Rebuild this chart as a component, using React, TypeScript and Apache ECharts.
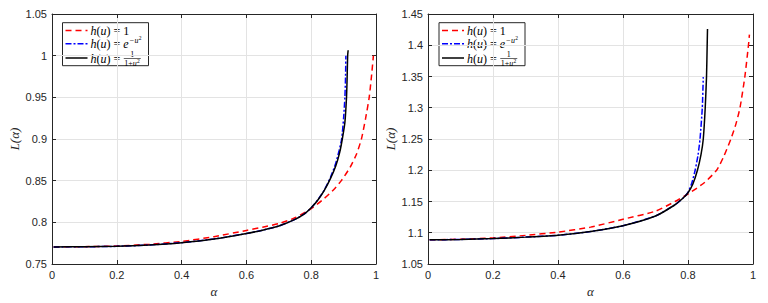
import React, { useEffect, useRef } from "react";
import * as echarts from "echarts";

// ---------- data ----------
const xTicksInterval = 0.2;
const leftYRange = [0.75, 1.05];
const rightYRange = [1.05, 1.45];
const yInterval = 0.05;

const seriesNames = ["h(u) = 1", "h(u) = e^{-u^2}", "h(u) = 1/(1+u^2)"];

// Left panel
const leftConst: [number, number][] = [
  [0.005, 0.7705], [0.1, 0.7708], [0.2, 0.7716], [0.3, 0.7737], [0.4, 0.7771],
  [0.5, 0.7828], [0.6, 0.7903], [0.65, 0.7942], [0.7, 0.7985], [0.75, 0.8055],
  [0.8, 0.8165], [0.84, 0.8285], [0.87, 0.8395], [0.893, 0.85], [0.92, 0.866],
  [0.94, 0.882], [0.955, 0.9], [0.968, 0.925], [0.979, 0.95], [0.986, 0.975],
  [0.992, 1.0],
];
const leftExp: [number, number][] = [
  [0.005, 0.7705], [0.1, 0.7707], [0.2, 0.7712], [0.3, 0.7728], [0.4, 0.7756],
  [0.5, 0.78], [0.6, 0.7866], [0.65, 0.7906], [0.7, 0.7956], [0.75, 0.8035],
  [0.78, 0.8105], [0.8, 0.8175], [0.82, 0.8268], [0.84, 0.8385], [0.86, 0.8545],
  [0.875, 0.87], [0.886, 0.886], [0.894, 0.9], [0.9, 0.925], [0.904, 0.95],
  [0.906, 0.975], [0.907, 1.0],
];
const leftRat: [number, number][] = [
  [0.005, 0.7705], [0.1, 0.7707], [0.2, 0.7712], [0.3, 0.7728], [0.4, 0.7756],
  [0.5, 0.78], [0.6, 0.7866], [0.65, 0.7906], [0.7, 0.7956], [0.75, 0.8035],
  [0.78, 0.8105], [0.8, 0.8175], [0.82, 0.8265], [0.84, 0.838], [0.86, 0.853],
  [0.876, 0.868], [0.888, 0.884], [0.896, 0.9], [0.904, 0.92], [0.909, 0.95],
  [0.911, 0.975], [0.9125, 1.0], [0.914, 1.0065],
];

// Right panel
const rightConst: [number, number][] = [
  [0.005, 1.0887], [0.1, 1.0897], [0.2, 1.0918], [0.3, 1.0958], [0.4, 1.101],
  [0.5, 1.109], [0.6, 1.1216], [0.7, 1.1345], [0.76, 1.15], [0.8, 1.162],
  [0.85, 1.18], [0.888, 1.2], [0.91, 1.222], [0.932, 1.25], [0.948, 1.275],
  [0.96, 1.3], [0.975, 1.35], [0.986, 1.4], [0.989, 1.417],
];
const rightExp: [number, number][] = [
  [0.005, 1.0887], [0.1, 1.0893], [0.2, 1.0907], [0.3, 1.093], [0.4, 1.0959],
  [0.5, 1.102], [0.6, 1.1113], [0.7, 1.1268], [0.76, 1.1448], [0.785, 1.1555],
  [0.8, 1.1645], [0.812, 1.18], [0.822, 1.2], [0.831, 1.225], [0.837, 1.25],
  [0.844, 1.3], [0.847, 1.349],
];
const rightRat: [number, number][] = [
  [0.005, 1.0887], [0.1, 1.0893], [0.2, 1.0907], [0.3, 1.093], [0.4, 1.0959],
  [0.5, 1.102], [0.6, 1.1113], [0.7, 1.1268], [0.76, 1.1448], [0.785, 1.1555],
  [0.8, 1.164], [0.815, 1.178], [0.829, 1.2], [0.84, 1.225], [0.847, 1.25],
  [0.853, 1.3], [0.857, 1.35], [0.859, 1.4], [0.86, 1.426],
];

// ---------- styles ----------
const AX = "#262626";
const GRID = "#e3e3e3";
const RED = "#ff0000";
const BLUE = "#0000ff";
const BLACK = "#000000";
const SERIF = "'Liberation Serif', 'DejaVu Serif', serif";
const SANS = "'Liberation Sans', Arial, sans-serif";
const LFS = 12; // legend font size

function measure(txt: string, font: string): number {
  const c = document.createElement("canvas").getContext("2d");
  if (!c) return txt.length * 6;
  c.font = font;
  return c.measureText(txt).width;
}

function xAxes(gridIndex: number) {
  const common = {
    type: "value" as const,
    gridIndex,
    min: 0,
    max: 1,
    interval: xTicksInterval,
    axisLine: { onZero: false, lineStyle: { color: AX, width: 1 } },
    axisTick: { inside: true, length: 4, lineStyle: { color: AX, width: 1 } },
  };
  return [
    {
      ...common,
      position: "bottom",
      axisLabel: { color: AX, fontFamily: SANS, fontSize: 11, margin: 5 },
      splitLine: { show: true, lineStyle: { color: GRID, width: 1 } },
      name: "α",
      nameLocation: "middle",
      nameGap: 21,
      nameTextStyle: { fontFamily: SERIF, fontStyle: "italic", fontSize: 13, color: AX },
    },
    {
      ...common,
      position: "top",
      axisLabel: { show: false },
      splitLine: { show: false },
    },
  ];
}

function yAxes(gridIndex: number, range: number[]) {
  const common = {
    type: "value" as const,
    gridIndex,
    min: range[0],
    max: range[1],
    interval: yInterval,
    axisLine: { onZero: false, lineStyle: { color: AX, width: 1 } },
    axisTick: { inside: true, length: 4, lineStyle: { color: AX, width: 1 } },
  };
  return [
    {
      ...common,
      position: "left",
      axisLabel: {
        color: AX,
        fontFamily: SANS,
        fontSize: 11,
        margin: 5,
        formatter: (v: number) => String(Math.round(v * 100) / 100),
      },
      splitLine: { show: true, lineStyle: { color: GRID, width: 1 } },
      name: "L(α)",
      nameLocation: "middle",
      nameGap: 31,
      nameTextStyle: { fontFamily: SERIF, fontStyle: "italic", fontSize: 13, color: AX },
    },
    {
      ...common,
      position: "right",
      axisLabel: { show: false },
      splitLine: { show: false },
    },
  ];
}

function lineSeries(
  name: string,
  data: [number, number][],
  axisIdx: number,
  color: string,
  type: any,
  z: number
) {
  return {
    type: "line",
    name,
    xAxisIndex: axisIdx,
    yAxisIndex: axisIdx,
    data,
    showSymbol: false,
    smooth: 0.2,
    lineStyle: { color, width: 1.5, type },
    z,
    silent: true,
  };
}

function legendGraphic(bx: number, by: number) {
  const w = 86;
  const h = 43;
  const rows = [7.7, 21, 35.3];
  const tx = 28;
  const fi = `italic ${LFS}px ${SERIF}`;
  const fr = `${LFS}px ${SERIF}`;
  const lhsW =
    measure("h", fi) + measure("(", fr) + measure("u", fi) + measure(") = ", fr);
  const rich = {
    i: { fontFamily: SERIF, fontStyle: "italic", fontSize: LFS, fill: BLACK, color: BLACK },
    r: { fontFamily: SERIF, fontSize: LFS, fill: BLACK, color: BLACK },
  };
  const els: any[] = [
    {
      type: "rect",
      shape: { x: 0, y: 0, width: w, height: h },
      style: { fill: "#ffffff", stroke: AX, lineWidth: 1 },
    },
  ];
  const lineDefs = [
    { color: RED, dash: [6, 4] },
    { color: BLUE, dash: [6, 2, 2, 2] },
    { color: BLACK, dash: null },
  ];
  const rowTexts = [
    "{i|h}{r|(}{i|u}{r|) = 1}",
    "{i|h}{r|(}{i|u}{r|) = }{i|e}",
    "{i|h}{r|(}{i|u}{r|) = }",
  ];
  lineDefs.forEach((d, k) => {
    els.push({
      type: "line",
      shape: { x1: 3, y1: rows[k], x2: 25, y2: rows[k] },
      style: { stroke: d.color, lineWidth: 1.5, lineDash: d.dash || undefined },
    });
    els.push({
      type: "text",
      x: tx,
      y: rows[k] + 0.5,
      style: { text: rowTexts[k], rich, verticalAlign: "middle", align: "left" },
    });
  });
  // row 2 superscript: -u^2
  const ex = tx + lhsW + measure("e", fi) + 0.5;
  els.push({
    type: "text",
    x: ex,
    y: rows[1] - 3.5,
    style: { text: "−u", fontFamily: SERIF, fontStyle: "italic", fontSize: 8, fill: BLACK, verticalAlign: "middle" },
  });
  els.push({
    type: "text",
    x: ex + measure("−u", `italic 8px ${SERIF}`) + 0.3,
    y: rows[1] - 5.5,
    style: { text: "2", fontFamily: SERIF, fontSize: 5.5, fill: BLACK, verticalAlign: "middle" },
  });
  // row 3 fraction 1/(1+u^2)
  const fx0 = tx + lhsW + 0.5;
  const denW = measure("1+", `8px ${SERIF}`) + measure("u", `italic 8px ${SERIF}`) + 3.5;
  const fx1 = fx0 + denW + 1;
  const fc = (fx0 + fx1) / 2;
  els.push({
    type: "text",
    x: fc,
    y: rows[2] - 3.8,
    style: { text: "1", fontFamily: SERIF, fontSize: 8, fill: BLACK, align: "center", verticalAlign: "middle" },
  });
  els.push({
    type: "line",
    shape: { x1: fx0, y1: rows[2] + 0.5, x2: fx1, y2: rows[2] + 0.5 },
    style: { stroke: BLACK, lineWidth: 0.6 },
  });
  els.push({
    type: "text",
    x: fx0 + 0.5,
    y: rows[2] + 5,
    style: {
      text: "{r|1+}{i|u}",
      rich: {
        r: { fontFamily: SERIF, fontSize: 8, fill: BLACK, color: BLACK },
        i: { fontFamily: SERIF, fontStyle: "italic", fontSize: 8, fill: BLACK, color: BLACK },
      },
      align: "left",
      verticalAlign: "middle",
    },
  });
  els.push({
    type: "text",
    x: fx0 + 0.5 + denW - 3.2,
    y: rows[2] + 3.3,
    style: { text: "2", fontFamily: SERIF, fontSize: 5.5, fill: BLACK, verticalAlign: "middle" },
  });
  return { type: "group", x: bx, y: by, z: 100, children: els };
}

export default function App() {
  const ref = useRef<HTMLDivElement>(null);
  useEffect(() => {
    document.body.style.margin = "0";
    const chart = echarts.init(ref.current!, null, { renderer: "svg" });
    const option: any = {
      animation: false,
      backgroundColor: "#ffffff",
      grid: [
        { left: 52, top: 14, width: 324, height: 255 },
        { left: 428, top: 14, width: 325, height: 255 },
      ],
      xAxis: [...xAxes(0), ...xAxes(1)],
      yAxis: [...yAxes(0, leftYRange), ...yAxes(1, rightYRange)],
      series: [
        lineSeries(seriesNames[0], leftConst, 0, RED, [6, 4], 3),
        lineSeries(seriesNames[1], leftExp, 0, BLUE, [6, 2, 2, 2], 4),
        lineSeries(seriesNames[2], leftRat, 0, BLACK, "solid", 5),
        lineSeries(seriesNames[0], rightConst, 2, RED, [6, 4], 3),
        lineSeries(seriesNames[1], rightExp, 2, BLUE, [6, 2, 2, 2], 4),
        lineSeries(seriesNames[2], rightRat, 2, BLACK, "solid", 5),
      ],
      graphic: [legendGraphic(62.5, 22.7), legendGraphic(439, 22.7)],
    };
    chart.setOption(option);
    return () => chart.dispose();
  }, []);
  return <div ref={ref} style={{ width: 768, height: 303 }} />;
}
